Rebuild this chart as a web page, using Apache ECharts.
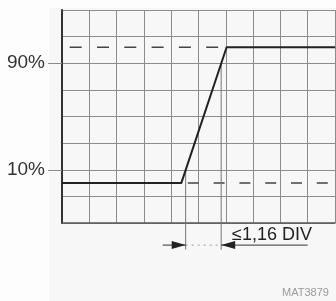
<!DOCTYPE html>
<html>
<head>
<meta charset="utf-8">
<script src="https://cdn.jsdelivr.net/npm/echarts@6/dist/echarts.min.js"></script>
<style>
  html, body { margin: 0; padding: 0; background: #fdfdfd; }
  #chart { width: 336px; height: 301px; }
</style>
</head>
<body>
<div id="chart"></div>
<script>
// screen divisions (DIV)
const waveX = [0, 4.37, 6.03, 10];
const waveY = [1.5, 1.5, 6.6, 6.6];
const lowLevel = 1.5;
const highLevel = 6.6;
const crossX = [4.53, 5.83];        // 10% / 90% crossings
const crossY = [2, 6];
const yTickValues = [2, 6];
const yTickLabels = ['10%', '90%'];
const arrowY = -0.83;
const arrowLeftFrom = 3.69;
const arrowRightFrom = 9.0;
const extBottom = -1.0;
const riseText = '\u22641,16 DIV';
const figCode = 'MAT3879';

let chart = echarts.init(document.getElementById('chart'), null, { renderer: 'canvas' });

const gray = '#8c8c8c';
const ink = '#222';

function arrowHead(x, y, dir) {
  // dir 1 = points right, -1 = points left; tip sits on (x, y)
  return {
    value: [x, y],
    symbol: 'triangle',
    symbolSize: [8, 14],
    symbolRotate: dir > 0 ? -90 : 90,
    symbolOffset: [-7 * dir, 0],
    itemStyle: { color: '#222' }
  };
}

let option = {
  animation: false,
  backgroundColor: '#fdfdfd',
  grid: { left: 62, top: 10, width: 273, height: 213, containLabel: false },
  xAxis: {
    type: 'value', min: 0, max: 10, interval: 1,
    axisLine: { show: true, onZero: false, lineStyle: { color: '#555', width: 1.5 } },
    axisTick: { show: false },
    axisLabel: { show: false },
    splitLine: { show: true, lineStyle: { color: gray, width: 1 } }
  },
  yAxis: [
    {
      type: 'value', min: 0, max: 8, interval: 1,
      axisLine: { show: true, onZero: false, lineStyle: { color: '#333', width: 2 } },
      axisTick: { show: false },
      axisLabel: { show: false },
      splitLine: { show: true, lineStyle: { color: gray, width: 1 } }
    },
    {
      type: 'value', min: 0, max: 8, position: 'left',
      axisLine: { show: false },
      axisTick: { show: true, length: 14, customValues: yTickValues, lineStyle: { color: gray, width: 1 } },
      axisLabel: {
        show: true, margin: 17, customValues: yTickValues,
        fontFamily: 'Liberation Sans', fontSize: 19, color: '#333',
        formatter: v => yTickLabels[yTickValues.indexOf(v)] || ''
      },
      splitLine: { show: false }
    }
  ],
  graphic: [
    { type: 'rect', z: -10, shape: { x: 49, y: 8, width: 290, height: 295 }, style: { fill: '#f7f7f7' } },
    { type: 'text', left: 232, top: 226, style: { text: riseText, fontFamily: 'Liberation Sans', fontSize: 18, fill: '#222' } },
    { type: 'text', left: 282, top: 287, style: { text: figCode, fontFamily: 'Liberation Sans', fontSize: 11, fill: '#9a9a9a' } }
  ],
  series: [
    {
      // dashed 100% level before the edge
      type: 'line', silent: true, symbol: 'none', clip: false, z: 3,
      data: [[0, highLevel], [waveX[2], highLevel]],
      lineStyle: { color: '#444', width: 1.5, type: [12, 15.3], dashOffset: 19.6 }
    },
    {
      // dashed 0% level after the edge
      type: 'line', silent: true, symbol: 'none', clip: false, z: 3,
      data: [[waveX[1], lowLevel], [10, lowLevel]],
      lineStyle: { color: '#444', width: 1.5, type: [11, 14.8], dashOffset: 19.3 }
    },
    {
      // 10% / 90% extension lines
      type: 'line', silent: true, symbol: 'none', clip: false, z: 3,
      data: [[crossX[0], crossY[0]], [crossX[0], extBottom], null, [crossX[1], crossY[1]], [crossX[1], extBottom]],
      lineStyle: { color: '#777', width: 1 }
    },
    {
      // rise time arrows
      type: 'line', silent: true, clip: false, z: 4, showSymbol: true,
      symbol: 'none',
      data: [
        [arrowLeftFrom, arrowY], arrowHead(crossX[0], arrowY, 1), null,
        [arrowRightFrom, arrowY], arrowHead(crossX[1], arrowY, -1)
      ],
      lineStyle: { color: '#333', width: 1 }
    },
    {
      type: 'line', silent: true, symbol: 'none', clip: false, z: 3,
      data: [[crossX[0], arrowY], [crossX[1], arrowY]],
      lineStyle: { color: '#999', width: 1, type: [2, 4] }
    },
    {
      type: 'line', silent: true, symbol: 'none', clip: false, z: 5,
      data: waveX.map((x, i) => [x, waveY[i]]),
      lineStyle: { color: ink, width: 2 }
    }
  ]
};

chart.setOption(option);
</script>
</body>
</html>
